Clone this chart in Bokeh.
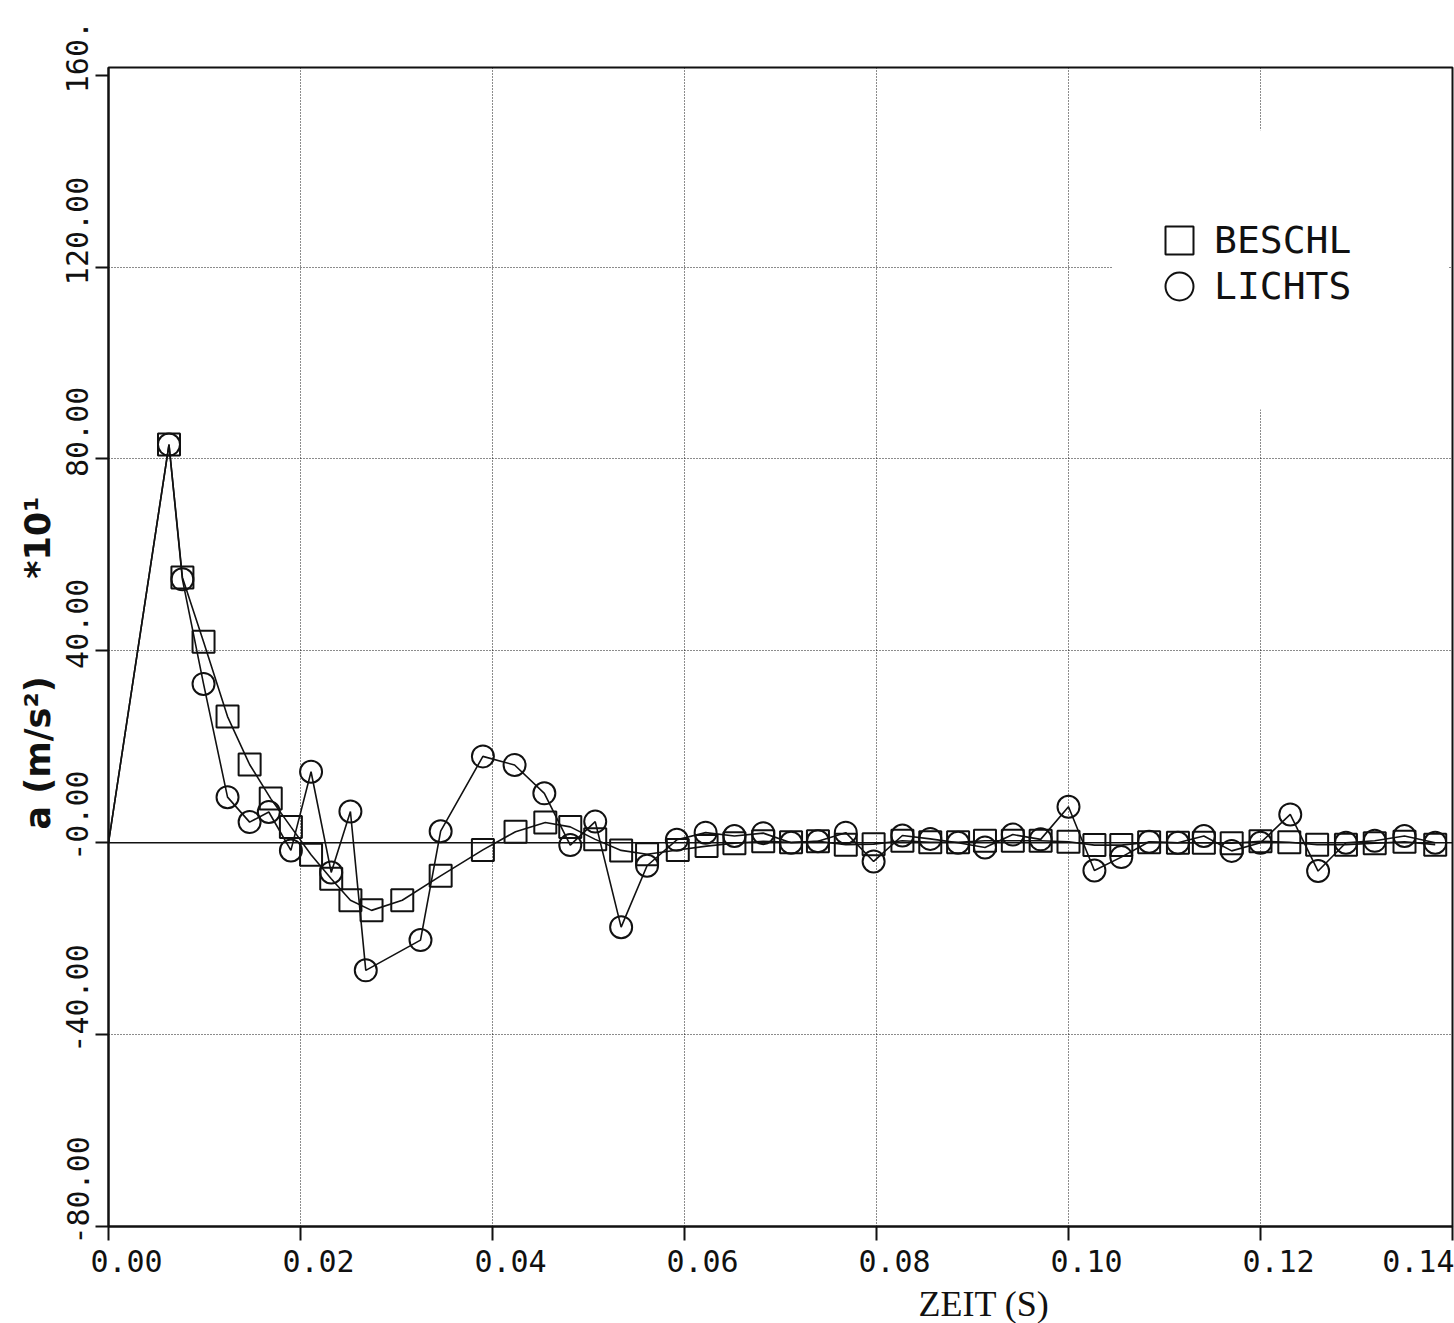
import math
from bokeh.plotting import figure
from bokeh.models import (Range1d, FixedTicker, Span, Legend, LegendItem, Title,
                          BoxAnnotation, CustomJSTickFormatter)
from bokeh.embed import file_html
from bokeh.resources import INLINE

# ---------------- data ----------------
x_ticks = [0.00, 0.02, 0.04, 0.06, 0.08, 0.10, 0.12, 0.14]
x_tick_labels = ["0.00", "0.02", "0.04", "0.06", "0.08", "0.10", "0.12", "0.14"]
y_ticks = [-80, -40, 0, 40, 80, 120, 160]
y_tick_labels = ["-80.00", "-40.00", "-0.00", "40.00", "80.00", "120.00", "160."]

beschl_t = [0.0, 0.0063, 0.0077, 0.0099, 0.0124, 0.0147, 0.0169, 0.0190, 0.0211, 0.0232,
            0.0252, 0.0274, 0.0306, 0.0346, 0.0390, 0.0424, 0.0455, 0.0481, 0.0507, 0.0534,
            0.0561, 0.0593, 0.0623, 0.0652, 0.0682, 0.0711, 0.0739, 0.0768, 0.0797, 0.0827,
            0.0856, 0.0885, 0.0913, 0.0942, 0.0971, 0.1000, 0.1027, 0.1055, 0.1084, 0.1114,
            0.1141, 0.1170, 0.1200, 0.1230, 0.1259, 0.1289, 0.1319, 0.1350, 0.1382]
beschl_a = [0.0, 83.0, 55.3, 41.9, 26.3, 16.3, 9.2, 3.3, -2.5, -7.5,
            -12.0, -14.1, -12.0, -6.9, -1.5, 2.3, 4.2, 3.3, 0.7, -1.6,
            -2.4, -1.5, -0.7, -0.1, 0.3, 0.1, 0.3, -0.4, -0.3, 0.4,
            0.1, 0.1, 0.4, 0.4, 0.4, 0.2, -0.5, -0.5, 0.1, 0.0,
            0.0, -0.1, 0.3, 0.1, -0.4, -0.4, -0.1, 0.2, -0.4]

lichts_t = [0.0, 0.0063, 0.0077, 0.0099, 0.0124, 0.0147, 0.0167, 0.0190, 0.0211, 0.0232,
            0.0252, 0.0268, 0.0325, 0.0346, 0.0390, 0.0423, 0.0454, 0.0481, 0.0507, 0.0534,
            0.0561, 0.0592, 0.0622, 0.0652, 0.0682, 0.0711, 0.0739, 0.0768, 0.0797, 0.0827,
            0.0856, 0.0885, 0.0913, 0.0942, 0.0971, 0.1000, 0.1027, 0.1055, 0.1084, 0.1114,
            0.1141, 0.1170, 0.1200, 0.1231, 0.1260, 0.1289, 0.1319, 0.1350, 0.1382]
lichts_a = [0.0, 83.0, 54.9, 33.1, 9.5, 4.3, 6.4, -1.6, 14.8, -6.2,
            6.5, -26.6, -20.3, 2.4, 18.0, 16.2, 10.3, -0.5, 4.4, -17.6,
            -4.8, 0.6, 2.1, 1.4, 2.0, 0.0, 0.3, 2.1, -3.9, 1.5,
            0.8, 0.0, -1.0, 1.7, 0.7, 7.5, -5.8, -3.0, 0.2, 0.0,
            1.4, -1.7, 0.0, 5.9, -5.9, 0.0, 0.4, 1.4, 0.0]

INK = "#111111"
MONO = "DejaVu Sans Mono"
NB = "\u00a0"

p = figure(width=1454, height=1323, title=None,
           x_range=Range1d(0, 0.14), y_range=Range1d(-80, 161.6),
           output_backend="svg", toolbar_location=None,
           min_border_left=108, min_border_right=2, min_border_top=67, min_border_bottom=94)

p.background_fill_color = "white"
p.outline_line_color = INK
p.outline_line_width = 2


def label_formatter(ticks, labels):
    return CustomJSTickFormatter(args=dict(T=ticks, L=labels), code="""
        let i = 0, best = Infinity;
        for (let k = 0; k < T.length; k++) {
            const d = Math.abs(T[k] - tick);
            if (d < best) { best = d; i = k; }
        }
        return L[i];
    """)


# tick labels are shifted along their axis like the plotter's (padding with no-break spaces)
x_shown = [NB * 2 + s for s in x_tick_labels]
y_shown = [NB * (len(s) - 2) + s for s in y_tick_labels]

xa = p.xaxis[0]
ya = p.yaxis[0]
xa.ticker = FixedTicker(ticks=x_ticks)
ya.ticker = FixedTicker(ticks=y_ticks)
xa.formatter = label_formatter(x_ticks, x_shown)
ya.formatter = label_formatter(y_ticks, y_shown)
ya.major_label_orientation = "vertical"
xa.major_tick_out, ya.major_tick_out = 14, 13
xa.major_label_standoff, ya.major_label_standoff = 3, 0
for ax in (xa, ya):
    ax.major_tick_in = 0
    ax.minor_tick_line_color = None
    ax.axis_line_color = INK
    ax.axis_line_width = 2
    ax.major_tick_line_color = INK
    ax.major_tick_line_width = 2
    ax.major_label_text_font = MONO
    ax.major_label_text_font_size = "30px"
    ax.major_label_text_color = INK

p.ygrid[0].ticker = FixedTicker(ticks=[v for v in y_ticks if v < 160])
for g in (p.xgrid[0], p.ygrid[0]):
    g.grid_line_color = "#000000"
    g.grid_line_dash = "1 2"
    g.grid_line_width = 1
    g.grid_line_alpha = 0.9

p.add_layout(Span(location=0, dimension="width", line_color=INK, line_width=1.6))

p.line(beschl_t, beschl_a, line_color=INK, line_width=1.6)
p.line(lichts_t, lichts_a, line_color=INK, line_width=1.6)
sq = p.scatter(beschl_t[1:], beschl_a[1:], marker="square", size=22,
               fill_color=None, line_color=INK, line_width=2)
ci = p.scatter(lichts_t[1:], lichts_a[1:], marker="circle", size=22,
               fill_color=None, line_color=INK, line_width=2)

# white area behind the legend (grid is interrupted there)
p.add_layout(BoxAnnotation(left=0.1046, right=0.1396, bottom=90.3, top=148.5,
                           fill_color="white", fill_alpha=1.0, line_color=None))

for item, loc in ((LegendItem(label="BESCHL", renderers=[sq]), (1036, 951)),
                  (LegendItem(label="LICHTS", renderers=[ci]), (1036, 905))):
    p.add_layout(Legend(items=[item], location=loc, padding=0, spacing=0,
                        glyph_width=70, glyph_height=70, label_standoff=0,
                        label_text_font=MONO, label_text_font_size="38px",
                        label_text_color=INK, background_fill_alpha=0,
                        border_line_color=None))

# axis titles
p.add_layout(Title(text="a (m/s²)" + NB * 8 + "*10¹", align="left", offset=397, standoff=0,
                   text_font="DejaVu Sans", text_font_style="bold",
                   text_font_size="35px", text_color=INK), "left")
p.add_layout(Title(text="ZEIT (S)", align="left", offset=810, standoff=0,
                   text_font="Liberation Serif", text_font_style="normal",
                   text_font_size="36px", text_color=INK), "below")

open("out.html", "w").write(file_html(p, INLINE))
